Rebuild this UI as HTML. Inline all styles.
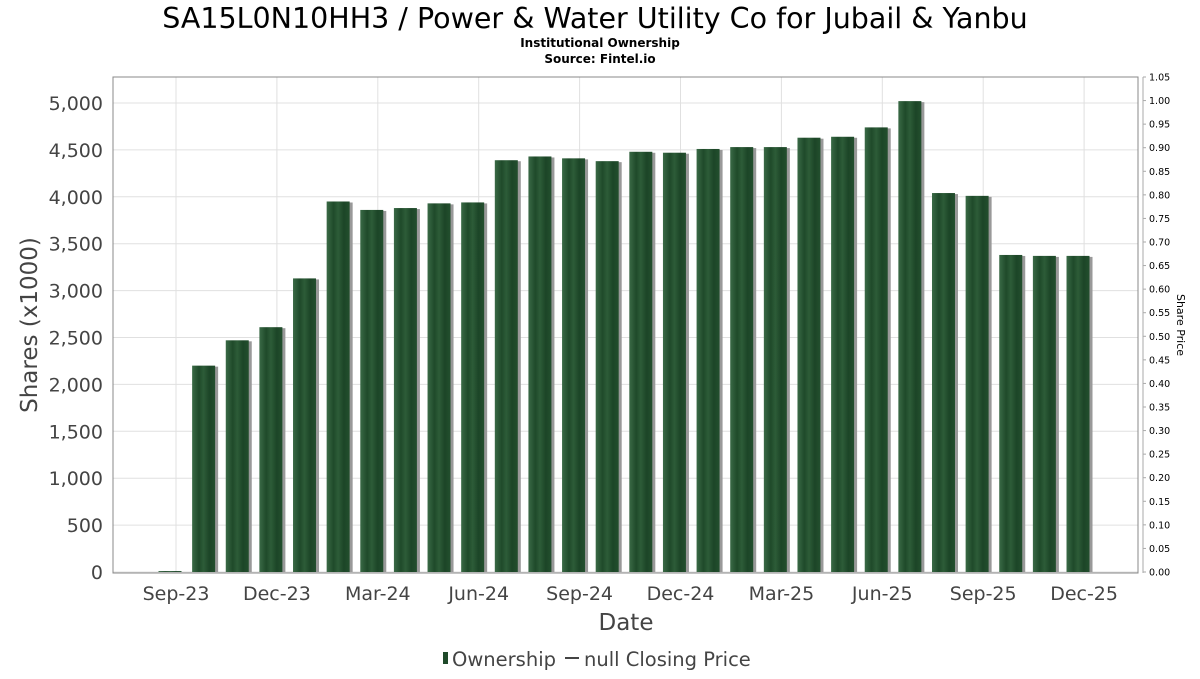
<!DOCTYPE html>
<html><head><meta charset="utf-8"><style>
body{margin:0;background:#fff;font-family:"DejaVu Sans","Liberation Sans",sans-serif}
svg text{font-family:"DejaVu Sans","Liberation Sans",sans-serif}
</style></head><body>
<svg id="c" width="1200" height="675" viewBox="0 0 1200 675" xmlns="http://www.w3.org/2000/svg">
<defs>
<linearGradient id="bg" x1="0" x2="1" y1="0" y2="0">
<stop offset="0" stop-color="#3a6a46"/><stop offset="0.3" stop-color="#1f4a2a"/><stop offset="0.5" stop-color="#2d5c38"/><stop offset="0.75" stop-color="#1c4527"/><stop offset="1" stop-color="#234f2e"/>
</linearGradient>
</defs>
<text x="595" y="28" text-anchor="middle" font-size="28.5">SA15L0N10HH3 / Power &amp; Water Utility Co for Jubail &amp; Yanbu</text>
<text x="600" y="47" text-anchor="middle" font-size="12" font-weight="bold">Institutional Ownership</text>
<text x="600" y="63" text-anchor="middle" font-size="12" font-weight="bold">Source: Fintel.io</text>
<g id="grid"></g>
<g id="bars"></g>
<rect x="113" y="77" width="1025" height="496" fill="none" stroke="#888"/>
<line x1="1143" y1="77" x2="1143" y2="573" stroke="#aaa"/>
<g id="axes"></g>
<text transform="translate(37,325) rotate(-90)" text-anchor="middle" font-size="23" fill="#444">Shares (x1000)</text>
<text transform="translate(1177,325) rotate(90)" text-anchor="middle" font-size="11">Share Price</text>
<text x="626" y="630" text-anchor="middle" font-size="23" fill="#444">Date</text>
<g>
<rect x="443" y="652" width="5" height="12" fill="#1f4a2a"/>
<text x="452" y="666" font-size="19.5" fill="#444">Ownership</text>
<line x1="565" y1="658" x2="579" y2="658" stroke="#444" stroke-width="2"/>
<text x="584" y="666" font-size="19.5" fill="#444">null Closing Price</text>
</g>
</svg>
<script>
const shares=[10,2200,2470,2610,3130,3950,3860,3880,3930,3940,4390,4430,4410,4380,4480,4470,4510,4530,4530,4630,4640,4740,5020,4040,4010,3380,3370,3370];
const yTicks=[0,500,1000,1500,2000,2500,3000,3500,4000,4500,5000];
const priceTicks=[0,0.05,0.1,0.15,0.2,0.25,0.3,0.35,0.4,0.45,0.5,0.55,0.6,0.65,0.7,0.75,0.8,0.85,0.9,0.95,1.0,1.05];
const xLabels=["Sep-23","Dec-23","Mar-24","Jun-24","Sep-24","Dec-24","Mar-25","Jun-25","Sep-25","Dec-25"];
const NS="http://www.w3.org/2000/svg";
const y=v=>572-v*0.0938;
const yp=v=>572-v/1.05*495;
const xb=i=>170+i*33.63;
const xt=i=>176+i*100.9;
function mk(tag,attrs,parent){const e=document.createElementNS(NS,tag);for(const k in attrs)e.setAttribute(k,attrs[k]);document.getElementById(parent).appendChild(e);return e;}
yTicks.forEach(v=>{
 const l=mk('line',{x1:113,x2:1138,y1:y(v),y2:y(v),stroke:'#e0e0e0'},'grid');
 
 
 const t=mk('text',{x:103,y:y(v)+7,'text-anchor':'end','font-size':19,fill:'#444'},'axes');
 t.textContent=v.toLocaleString('en-US');
 
 
});
xLabels.forEach((s,i)=>{
 const l=mk('line',{x1:xt(i),x2:xt(i),y1:77,y2:573,stroke:'#e0e0e0'},'grid');
 
 
 const t=mk('text',{x:xt(i),y:600,'text-anchor':'middle','font-size':19,fill:'#444'},'axes');
 t.textContent=s;
 
 
});
priceTicks.forEach(v=>{
 const l=mk('line',{x1:1143,x2:1146,y1:yp(v),y2:yp(v),stroke:'#aaa'},'axes');
 
 
 const t=mk('text',{x:1149,y:yp(v)+3.5,'font-size':9.5},'axes');
 t.textContent=v.toFixed(2);
 
 
});
shares.forEach((v,i)=>{
 const x=xb(i)-11.5,h=572-y(v);
 const s=mk('rect',{x:x+3,y:y(v)+1,width:23,height:Math.max(h-1,0),fill:'#999'},'bars');
 
 
 const b=mk('rect',{x:x,y:y(v),width:23,height:h,fill:'url(#bg)'},'bars');
 
 
});
</script>
</body></html>
